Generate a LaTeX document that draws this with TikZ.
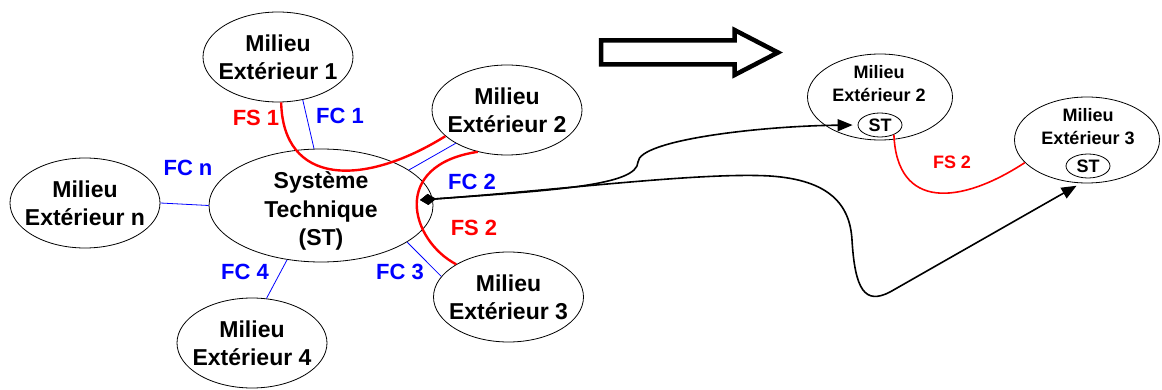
\documentclass[tikz,border=0pt]{standalone}
\usepackage{fontspec}
\setmainfont{Liberation Sans}
\usetikzlibrary{arrows.meta,shapes.geometric}
\tikzset{
  milieu/.style={draw, ellipse, line width=0.8pt, align=center, inner xsep=-8pt, inner ysep=0pt, minimum width=150pt, minimum height=90pt, font=\bfseries\fontsize{23}{28}\selectfont},
  syst/.style={draw, ellipse, line width=0.8pt, minimum width=224pt, minimum height=113pt},
  bigtxt/.style={align=center, inner sep=0pt, font=\bfseries\fontsize{23}{28.5}\selectfont},
  milieur/.style={draw, ellipse, line width=0.8pt, minimum width=145pt, minimum height=86pt},
  smalltxt/.style={align=center, inner sep=0pt, font=\bfseries\fontsize{18}{22.5}\selectfont},
  petit/.style={draw, ellipse, line width=0.8pt, inner sep=0pt, minimum width=44pt, minimum height=24pt, font=\bfseries\fontsize{18}{22}\selectfont},
  fclbl/.style={inner sep=0pt, text=blue, font=\bfseries\fontsize{22}{26}\selectfont},
  fslbl/.style={inner sep=0pt, text=red, font=\bfseries\fontsize{22}{26}\selectfont},
  fsrlbl/.style={inner sep=0pt, text=red, font=\bfseries\fontsize{18}{22}\selectfont},
  fcline/.style={draw=blue, line width=0.8pt},
  fsline/.style={draw=red, line width=2.4pt},
  fsrline/.style={draw=red, line width=1.6pt},
  flux/.style={{Diamond[length=16pt,width=11pt]}-{Triangle[length=15pt,width=12pt]}, line width=1.6pt, shorten >=5pt}
}

\begin{document}
\begin{tikzpicture}[x=1pt,y=-1pt]
\useasboundingbox (0,0) rectangle (1162,390);

% Left: technical system and its surroundings
\node[milieu] (me1) at (278,57) {Milieu\\Extérieur 1};
\node[milieu] (me2) at (507,110) {Milieu\\Extérieur 2};
\node[milieu] (me3) at (508.5,297) {Milieu\\Extérieur 3};
\node[milieu] (me4) at (252,343) {Milieu\\Extérieur 4};
\node[milieu] (men) at (85,203) {Milieu\\Extérieur n};
\node[syst] (st) at (321,205.5) {};
\node[bigtxt] (sttxt) at (321,211) {Système\\Technique\\(ST)};

% Constraint functions
\draw[fcline] (me1.-60) -- (st.97);
\draw[fcline] (me2.213) -- (st.22);
\draw[fcline] (st.-23.5) -- (me3.163);
\draw[fcline] (st.238.6) -- (me4.72);
\draw[fcline] (men.east) -- (st.west);

% Service functions
\draw[fsline] (me1.-86) .. controls (283,185) and (362,188) .. (me2.203);
\draw[fsline] (me2.235) .. controls (390,165) and (410,240) .. (me3.148);

% Labels
\node[fslbl] (fs1) at (256,118) {FS 1};
\node[fclbl] (fc1) at (340,116) {FC 1};
\node[fclbl] (fcn) at (188,168) {FC n};
\node[fclbl] (fc2) at (472,182) {FC 2};
\node[fslbl] (fs2) at (474,228) {FS 2};
\node[fclbl] (fc3) at (400,272) {FC 3};
\node[fclbl] (fc4) at (245,272) {FC 4};

% Hollow arrow
\draw[line width=4.5pt] (601,40.5) -- (734.5,40.5) -- (734.5,30) -- (778,52.5) -- (734.5,75) -- (734.5,64.5) -- (601,64.5) -- cycle;

% Right: the system inside each surrounding
\node[milieur] (me2r) at (880,97) {};
\node[smalltxt] (me2rtxt) at (879,83.5) {Milieu\\Extérieur 2};
\node[petit] (st2) at (880,125) {ST};
\node[milieur] (me3r) at (1087,140) {};
\node[smalltxt] (me3rtxt) at (1088,126.5) {Milieu\\Extérieur 3};
\node[petit] (st3) at (1088,166) {ST};

\draw[fsrline] (st2.-35.5) .. controls (897,210) and (960,205) .. (me3r.-160);
\node[fsrlbl] (fs2r) at (952,162) {FS 2};

% Moving the system
\coordinate (hub) at (420,200);
\draw[flux] (hub) .. controls (560,190) and (637,185) .. (638,162) .. controls (639,140) and (760,126) .. (st2.west);
\draw[flux] (hub) .. controls (560,190) and (700,172) .. (770,176) .. controls (830,180) and (850,205) .. (852,240) .. controls (855,290) and (865,305) .. (890,292) -- (me3r.-98);

\end{tikzpicture}
\end{document}
